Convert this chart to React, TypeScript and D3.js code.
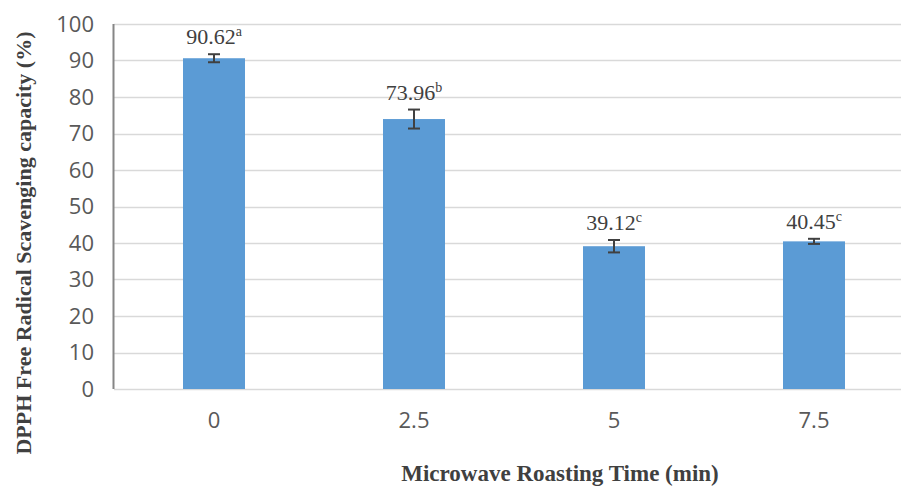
import React from "react";
import * as d3 from "d3";

const categories = ["0", "2.5", "5", "7.5"];
const values = [90.62, 73.96, 39.12, 40.45];
const errors = [1.1, 2.6, 1.7, 0.7];
const letters = ["a", "b", "c", "c"];
const yTicks = [0, 10, 20, 30, 40, 50, 60, 70, 80, 90, 100];

const W = 901;
const H = 486;

export default function App() {
  const x = d3.scaleBand<string>().domain(categories).range([114, 914]).paddingInner(0.69).paddingOuter(0.345);
  const y = d3.scaleLinear().domain([0, 100]).range([389, 24]);
  const bw = x.bandwidth();
  const capW = 12;
  return (
    <div style={{ position: "fixed", left: 0, top: 0 }}>
      <svg width={W} height={H} style={{ display: "block", background: "#fff" }}>
        {yTicks.map((t) => (
          <g key={t}>
            <line x1={114} x2={W} y1={Math.round(y(t)) + 0.5} y2={Math.round(y(t)) + 0.5} stroke="#d9d9d9" strokeWidth={1.5} />
            <text x={94} y={y(t)} dy="0.36em" textAnchor="end" fontFamily="Open Sans, sans-serif" fontSize={22} fill="#595959">
              {t}
            </text>
          </g>
        ))}
        <line x1={113.5} x2={113.5} y1={y(100)} y2={y(0)} stroke="#868686" strokeWidth={2} />
        {categories.map((c, i) => {
          const cx = (x(c) as number) + bw / 2;
          const top = y(values[i] + errors[i]);
          const bot = y(values[i] - errors[i]);
          return (
            <g key={c}>
              <rect x={x(c)} y={y(values[i])} width={bw} height={y(0) - y(values[i])} fill="#5b9bd5" />
              <line x1={cx} x2={cx} y1={top} y2={bot} stroke="#404040" strokeWidth={2} />
              <line x1={cx - capW / 2} x2={cx + capW / 2} y1={top} y2={top} stroke="#404040" strokeWidth={2} />
              <line x1={cx - capW / 2} x2={cx + capW / 2} y1={bot} y2={bot} stroke="#404040" strokeWidth={2} />
              <text x={cx} y={top - 10} textAnchor="middle" fontFamily="Liberation Serif, serif" fontSize={22} fill="#404040">
                {values[i].toFixed(2)}
                <tspan fontSize={14} dy={-8}>{letters[i]}</tspan>
              </text>
              <text x={cx} y={428} textAnchor="middle" fontFamily="Open Sans, sans-serif" fontSize={22} fill="#595959">
                {c}
              </text>
            </g>
          );
        })}
        <text
          transform={`translate(31,243) rotate(-90)`}
          textAnchor="middle"
          fontFamily="Liberation Serif, serif"
          fontWeight="bold"
          fontSize={22}
          fill="#404040"
        >
          DPPH Free Radical Scavenging capacity (%)
        </text>
        <text x={560} y={481} textAnchor="middle" fontFamily="Liberation Serif, serif" fontWeight="bold" fontSize={23} fill="#404040">
          Microwave Roasting Time (min)
        </text>
      </svg>
    </div>
  );
}
